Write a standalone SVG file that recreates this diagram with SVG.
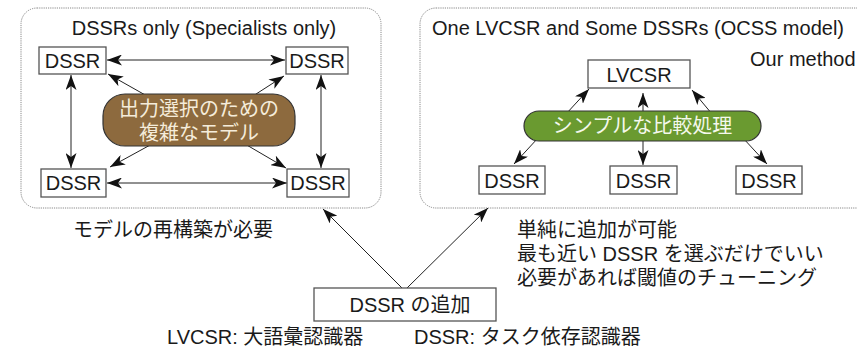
<svg xmlns="http://www.w3.org/2000/svg" width="857" height="349" viewBox="0 0 857 349">
<defs>
<style>
text{font-family:"Liberation Sans","Noto Sans CJK JP",sans-serif;font-size:20px;fill:#1a1a1a}
.panel{fill:#fff;stroke:#888;stroke-width:1;stroke-dasharray:1.2 1}
.box{fill:#fff;stroke:#555;stroke-width:1.3}
.c{text-anchor:middle}
.ln{stroke:#222;stroke-width:1;fill:none}
.two{marker-start:url(#ah);marker-end:url(#ah)}
.one{marker-end:url(#ah)}
</style>
<marker id="ah" viewBox="0 0 15 11" refX="15" refY="5.5" markerWidth="15" markerHeight="11" markerUnits="userSpaceOnUse" orient="auto-start-reverse">
<path d="M0,0 L15,5.5 L0,11 L4,5.5 z" fill="#111"/>
</marker>
</defs>
<rect width="857" height="349" fill="#fff"/>

<g id="panel-left">
<rect class="panel" x="21" y="8" width="360" height="200" rx="16"/>
<text class="c" x="204" y="35">DSSRs only (Specialists only)</text>
</g>
<g id="panel-right">
<rect class="panel" x="420" y="8" width="460" height="200" rx="16"/>
<text x="432" y="35">One LVCSR and Some DSSRs (OCSS model)</text>
<text x="750" y="66">Our method</text>
</g>

<g id="connectors">
<line class="ln two" x1="107" y1="60" x2="285" y2="60"/>
<line class="ln two" x1="107" y1="183" x2="287" y2="183"/>
<line class="ln two" x1="71" y1="75" x2="71" y2="168"/>
<line class="ln two" x1="321" y1="75" x2="321" y2="168"/>
<line class="ln one" x1="147" y1="96" x2="108" y2="74"/>
<line class="ln one" x1="253" y1="96" x2="284" y2="76"/>
<line class="ln one" x1="152" y1="144" x2="110" y2="167"/>
<line class="ln one" x1="245" y1="144" x2="286" y2="168"/>
<line class="ln one" x1="566" y1="114" x2="589" y2="89"/>
<line class="ln one" x1="643" y1="113" x2="643" y2="93"/>
<line class="ln one" x1="712" y1="114" x2="692" y2="90"/>
<line class="ln one" x1="538" y1="138" x2="514" y2="164"/>
<line class="ln one" x1="643" y1="139" x2="643" y2="165"/>
<line class="ln one" x1="743" y1="138" x2="767" y2="164"/>
<line class="ln one" x1="402" y1="288" x2="323" y2="209"/>
<line class="ln one" x1="407" y1="288" x2="488" y2="208"/>
</g>

<g id="dssr-tl"><rect class="box" x="39" y="47" width="67" height="27"/><text class="c" x="72.5" y="68">DSSR</text></g>
<g id="dssr-tr"><rect class="box" x="286" y="47" width="62" height="27"/><text class="c" x="317" y="68">DSSR</text></g>
<g id="dssr-bl"><rect class="box" x="41" y="169" width="65" height="28"/><text class="c" x="73.5" y="190">DSSR</text></g>
<g id="dssr-br"><rect class="box" x="287" y="169" width="62" height="28"/><text class="c" x="318" y="190">DSSR</text></g>

<g id="complex-model">
<rect x="103" y="94" width="192" height="52" rx="22" fill="#8D6A3E" stroke="#333" stroke-width="1.2"/>
<text class="c" x="199" y="116" style="fill:#F5ECDA">出力選択のための</text>
<text class="c" x="199" y="140" style="fill:#F5ECDA">複雑なモデル</text>
</g>

<g id="lvcsr"><rect class="box" x="588" y="60" width="102" height="28"/><text class="c" x="639" y="82">LVCSR</text></g>
<g id="simple-compare">
<rect x="524" y="111" width="237" height="30" rx="15" fill="#6A9A30" stroke="#333" stroke-width="1.2"/>
<text class="c" x="642.5" y="133" style="fill:#F4F8EC">シンプルな比較処理</text>
</g>
<g id="dssr-r1"><rect class="box" x="479" y="166" width="66" height="28"/><text class="c" x="512" y="188">DSSR</text></g>
<g id="dssr-r2"><rect class="box" x="610" y="166" width="67" height="28"/><text class="c" x="643.5" y="188">DSSR</text></g>
<g id="dssr-r3"><rect class="box" x="736" y="166" width="66" height="28"/><text class="c" x="769" y="188">DSSR</text></g>

<g id="add-dssr"><rect class="box" x="314" y="288" width="182" height="33"/><text class="c" x="410" y="312">DSSR の追加</text></g>

<g id="notes">
<text x="73" y="237">モデルの再構築が必要</text>
<text x="517" y="237">単純に追加が可能</text>
<text x="517" y="261">最も近い DSSR を選ぶだけでいい</text>
<text x="517" y="285">必要があれば閾値のチューニング</text>
<text x="167" y="344">LVCSR: 大語彙認識器</text>
<text x="414" y="344">DSSR: タスク依存認識器</text>
</g>
</svg>
